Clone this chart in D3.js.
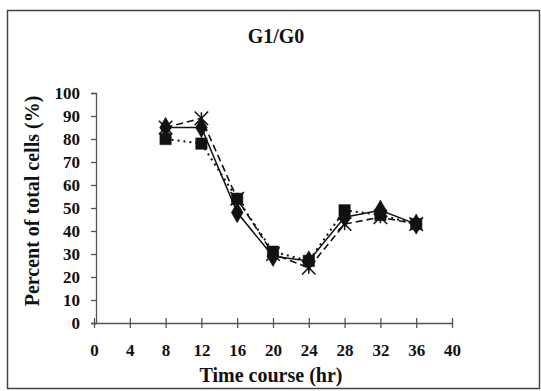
<!DOCTYPE html>
<html><head><meta charset="utf-8">
<script src="https://cdn.jsdelivr.net/npm/d3@7"></script>
<style>body{margin:0;background:#fff}svg{display:block}text{font-family:"Liberation Serif","Times New Roman",serif !important;font-weight:700 !important;fill:#111}</style>
</head><body><svg id="c" width="541" height="391"></svg>
<script>
const hours = [8, 12, 16, 20, 24, 28, 32, 36];
const seriesDiamond = [85, 85, 48, 29, 27, 46, 49, 43];
const seriesSquare = [80, 78, 54, 31, 27, 49, 47, 43];
const seriesStar = [85, 89, 54, 30, 24, 43, 46, 43];
const xTicks = [0, 4, 8, 12, 16, 20, 24, 28, 32, 36, 40];
const yTicks = [0, 10, 20, 30, 40, 50, 60, 70, 80, 90, 100];

const svg = d3.select("#c");
svg.append("rect").attr("x", 7.5).attr("y", 10.5).attr("width", 532).attr("height", 378)
  .attr("fill", "none").attr("stroke", "#444").attr("stroke-width", 1.5);

const x = d3.scaleLinear().domain([0, 40]).range([94, 452]);
const y = d3.scaleLinear().domain([0, 100]).range([323, 93]);

const xa = svg.append("g").attr("transform", "translate(0,323)")
  .call(d3.axisBottom(x).tickValues(xTicks).tickSize(0).tickPadding(21));
xa.select(".domain").attr("stroke", "#555").attr("stroke-width", 1.3);
xa.selectAll(".tick line").attr("y1", -5).attr("y2", 5).attr("stroke", "#555").attr("stroke-width", 1.3);
xa.selectAll("text").style("font-size", "17px").attr("fill", "#111");

const ya = svg.append("g").attr("transform", "translate(96,0)")
  .call(d3.axisLeft(y).tickValues(yTicks).tickSize(5).tickPadding(11));
ya.select(".domain").attr("stroke", "#555").attr("stroke-width", 1.3);
ya.selectAll(".tick line").attr("stroke", "#555").attr("stroke-width", 1.3);
ya.selectAll("text").style("font-size", "17px").attr("fill", "#111");

svg.append("text").attr("x", 276).attr("y", 43).attr("text-anchor", "middle")
  .style("font-size", "20px").text("G1/G0");
svg.append("text").attr("x", 271).attr("y", 382).attr("text-anchor", "middle")
  .style("font-size", "20px").text("Time course (hr)");
svg.append("text").attr("transform", "translate(39,201) rotate(-90)").attr("text-anchor", "middle")
  .style("font-size", "20px").text("Percent of total cells (%)");

const line = d3.line().x(d => x(d[0])).y(d => y(d[1]));
const series = [
  {vals: seriesStar, dash: "7,4", sym: d3.symbolX, size: 120, width: 1.6},
  {vals: seriesSquare, dash: "2,4", sym: d3.symbolSquare, size: 130, width: 2},
  {vals: seriesDiamond, dash: null, sym: d3.symbolDiamond, size: 120, width: 1.5}
];
series.forEach(s => {
  const pts = hours.map((h, i) => [h, s.vals[i]]);
  svg.append("path").attr("d", line(pts)).attr("fill", "none").attr("stroke", "#111")
    .attr("stroke-width", s.width).attr("stroke-dasharray", s.dash);
});
series.forEach(s => {
  const pts = hours.map((h, i) => [h, s.vals[i]]);
  const isX = s.sym === d3.symbolX;
  svg.append("g").selectAll("path").data(pts).join("path")
    .attr("transform", d => `translate(${x(d[0])},${y(d[1])})`)
    .attr("d", d3.symbol().type(s.sym).size(s.size))
    .attr("fill", isX ? "none" : "#111").attr("stroke", "#111").attr("stroke-width", isX ? 1.5 : 0.5);
  if (isX) {
    svg.append("g").selectAll("line").data(pts).join("line")
      .attr("x1", d => x(d[0])).attr("x2", d => x(d[0]))
      .attr("y1", d => y(d[1]) - 6).attr("y2", d => y(d[1]) + 6)
      .attr("stroke", "#111").attr("stroke-width", 1.5);
  }
});
</script></body></html>
